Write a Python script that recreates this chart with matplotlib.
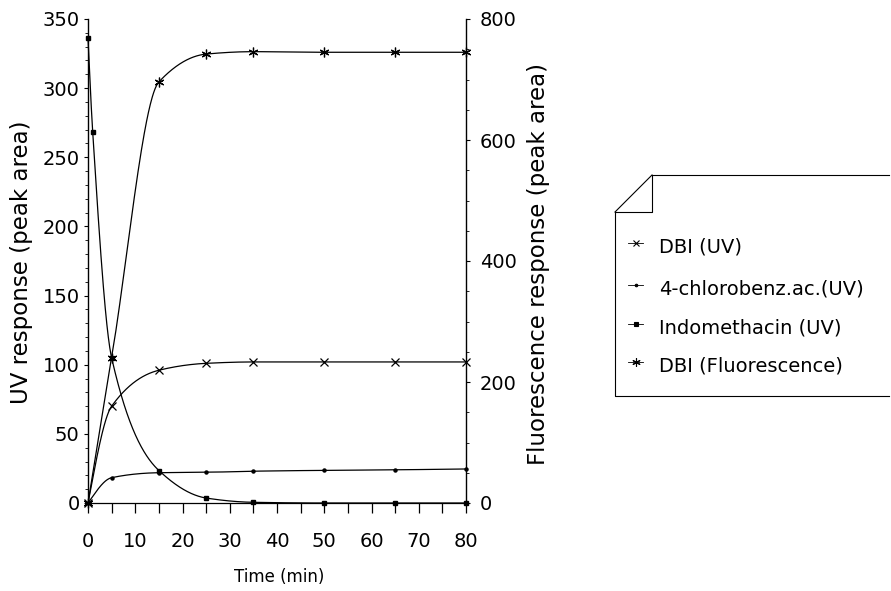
import numpy as np
import matplotlib
matplotlib.use("Agg")
import matplotlib.pyplot as plt
from matplotlib.lines import Line2D

plt.rcParams['font.family'] = ['DejaVu Sans']

# values
time = [0, 5, 15, 25, 35, 50, 65, 80]
dbi_uv = [0, 70, 96, 101, 102, 102, 102, 102]
chlorobenz_uv = [0, 18.3, 21.9, 22.2, 23.0, 23.6, 24.0, 24.6]
indo_time = [0, 1, 5, 15, 25, 35, 50, 65, 80]
indo_uv = [336, 268, 105, 23.5, 3.6, 0.5, 0, 0, 0]
dbi_fluor = [0, 240, 696, 742, 746, 745, 745, 745]

W, H = 891, 591


def pchip(x, y, xn):
    # monotone cubic through the points, only used to draw the smooth line
    x = np.asarray(x, float)
    y = np.asarray(y, float)
    h = np.diff(x)
    d = np.diff(y) / h
    m = np.zeros_like(y)
    for k in range(1, len(x) - 1):
        if d[k - 1] * d[k] > 0:
            w1 = 2 * h[k] + h[k - 1]
            w2 = h[k] + 2 * h[k - 1]
            m[k] = (w1 + w2) / (w1 / d[k - 1] + w2 / d[k])
    m0 = ((2 * h[0] + h[1]) * d[0] - h[0] * d[1]) / (h[0] + h[1])
    if np.sign(m0) != np.sign(d[0]):
        m0 = 0
    m[0] = m0
    m[-1] = d[-1]
    out = np.empty_like(xn)
    idx = np.clip(np.searchsorted(x, xn) - 1, 0, len(x) - 2)
    for i, xv in enumerate(xn):
        k = idx[i]
        t = (xv - x[k]) / h[k]
        h00 = 2 * t**3 - 3 * t**2 + 1
        h10 = t**3 - 2 * t**2 + t
        h01 = -2 * t**3 + 3 * t**2
        h11 = t**3 - t**2
        out[i] = h00 * y[k] + h10 * h[k] * m[k] + h01 * y[k + 1] + h11 * h[k] * m[k + 1]
    return out


fig = plt.figure(figsize=(W / 100, H / 100), dpi=100)
ax = fig.add_axes([88 / W, 88 / H, 378 / W, 484 / H])
ax2 = ax.twinx()

xs = np.linspace(0, 80, 801)
lw = 0.9
asterisk = (6, 2, 0)

ax.plot(xs, pchip(time, dbi_uv, xs), color='black', lw=lw)
ax.plot(time, dbi_uv, ls='none', marker='x', ms=6, mew=0.9, color='black', clip_on=False)
ax.plot(xs, pchip(time, chlorobenz_uv, xs), color='black', lw=lw)
ax.plot(time, chlorobenz_uv, ls='none', marker='o', ms=2.2, color='black', clip_on=False)
xi = np.linspace(0, 80, 1601)
ax.plot(xi, pchip(indo_time, indo_uv, xi), color='black', lw=lw, clip_on=False)
ax.plot(indo_time, indo_uv, ls='none', marker='s', ms=3.2, color='black', clip_on=False)
ax2.plot(xs, pchip(time, dbi_fluor, xs), color='black', lw=lw)
ax2.plot(time, dbi_fluor, ls='none', marker=asterisk, ms=7, mew=0.9, color='black', clip_on=False)

ax.set_xlim(0, 80)
ax.set_ylim(0, 350)
ax2.set_ylim(0, 800)

for a in (ax, ax2):
    a.spines['top'].set_visible(False)
    a.spines['bottom'].set_linewidth(0.9)
ax2.spines['left'].set_visible(False)
ax2.spines['bottom'].set_visible(False)
ax.spines['right'].set_visible(False)
ax.spines['left'].set_linewidth(1.0)
ax2.spines['right'].set_linewidth(1.0)

ax.set_xticks(range(0, 81, 10))
ax.set_xticks(range(5, 80, 10), minor=True)
ax.set_yticks(range(0, 351, 50))
ax.set_yticks(range(0, 351, 10), minor=True)
ax2.set_yticks(range(0, 801, 200))
ax2.set_yticks(range(0, 801, 50), minor=True)

ax.tick_params(axis='x', which='both', direction='out', length=7, width=0.9,
               pad=14, labelsize=14)
ax.tick_params(axis='y', which='major', direction='out', length=3, width=0.8,
               pad=3, labelsize=14)
ax.tick_params(axis='y', which='minor', direction='out', length=2, width=0.6)
ax2.tick_params(axis='y', which='major', direction='out', length=3, width=0.8,
                pad=7, labelsize=14)
ax2.tick_params(axis='y', which='minor', direction='out', length=2, width=0.6)

fig.text(22 / W, 1 - 262 / H, 'UV response (peak area)', rotation=90,
         ha='center', va='center', fontsize=16.5)
fig.text(539 / W, 1 - 264 / H, 'Fluorescence response (peak area)', rotation=90,
         ha='center', va='center', fontsize=16.5)
fig.text(279 / W, 1 - 577 / H, 'Time (min)', ha='center', va='center', fontsize=12)


def fig_line(xp, yp, **kw):
    fig.add_artist(Line2D([p / W for p in xp], [1 - p / H for p in yp],
                          transform=fig.transFigure, color='black', lw=0.8, **kw))


# legend box with folded corner
fig_line([652, 889], [175, 175])
fig_line([652, 615], [175, 212])
fig_line([615, 652, 652], [212, 212, 175])
fig_line([615, 615, 889], [212, 396, 396])

labels = ['DBI (UV)', '4-chlorobenz.ac.(UV)', 'Indomethacin (UV)', 'DBI (Fluorescence)']
markers = [('x', 5, 0.8), ('o', 1.8, 0.8), ('s', 3, 0.8), (asterisk, 6, 0.8)]
rows = [247, 289, 328, 366]
for lab, (mk, ms, mw), yp in zip(labels, markers, rows):
    yy = 1 - (yp - 4) / H
    fig.add_artist(Line2D([628 / W, 643 / W], [yy, yy], transform=fig.transFigure,
                          color='black', lw=0.6))
    fig.add_artist(Line2D([636 / W], [yy], transform=fig.transFigure, ls='none',
                          marker=mk, ms=ms, mew=mw, color='black'))
    fig.text(659 / W, 1 - yp / H, lab, ha='left', va='center', fontsize=14)

fig.savefig('out.png', dpi=100)
